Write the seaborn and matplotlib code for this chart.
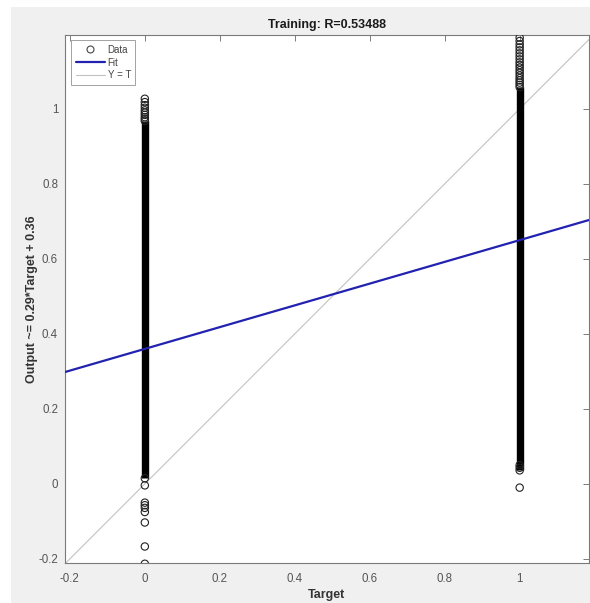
import matplotlib
matplotlib.use("Agg")
import matplotlib.pyplot as plt
from matplotlib.lines import Line2D
from matplotlib.patches import Rectangle
import numpy as np
import pandas as pd
import seaborn as sns

# ---- data -------------------------------------------------------------
# individually visible outputs for target 0 and target 1
outputs_t0 = [1.027, 1.018, 1.010, 1.003, 0.996, 0.990, 0.984, 0.978, 0.973, 0.968,
              0.015, -0.004, -0.050, -0.057, -0.064, -0.075, -0.103, -0.167, -0.213]
outputs_t1 = [1.190, 1.181, 1.172, 1.164, 1.156, 1.148, 1.140, 1.132, 1.124, 1.117,
              1.110, 1.103, 1.096, 1.089, 1.082, 1.076, 1.070, 1.064, 1.058,
              0.050, 0.043, 0.036, -0.010]
# the densely packed part of each column (lower and upper output)
band_targets = [0, 1]
band_lo = [0.015, 0.036]
band_hi = [0.968, 1.058]

fit_slope = 0.29
fit_intercept = 0.36
r_value = "0.53488"

xlim = (-0.213, 1.185)
ylim = (-0.211, 1.197)
ticks = [-0.2, 0, 0.2, 0.4, 0.6, 0.8, 1]
tick_labels = ["-0.2", "0", "0.2", "0.4", "0.6", "0.8", "1"]

df = pd.DataFrame({
    "Target": [0] * len(outputs_t0) + [1] * len(outputs_t1),
    "Output": outputs_t0 + outputs_t1,
})

# ---- figure -------------------------------------------------------------
sns.set_theme(style="white")
plt.rcParams["font.family"] = ["Liberation Sans", "DejaVu Sans"]

fig = plt.figure(figsize=(5.90, 6.03), dpi=100)
fig.patch.set_facecolor("white")
bg = Rectangle((11 / 590, 0), 1, (603 - 7) / 603, transform=fig.transFigure,
               facecolor="#f0f0f0", edgecolor="none", zorder=-10)
fig.add_artist(bg)

ax = fig.add_axes([65 / 590, 40 / 603, (589 - 65) / 590, (563 - 35) / 603])
ax.set_zorder(1)
ax.set_facecolor("white")

# Y = T reference line
ax.axline((0, 0), slope=1, color="#c2c2c2", lw=0.8, zorder=1)

# dense part of the columns
ax.vlines(band_targets, band_lo, band_hi, colors="black", lw=5.3, zorder=2)

# individual data circles
sns.scatterplot(data=df, x="Target", y="Output", ax=ax, marker="o", s=28,
                facecolor="none", edgecolor="#222222", linewidth=0.8,
                legend=False, zorder=3)

# regression fit
ax.axline((0, fit_intercept), slope=fit_slope, color="#2222b0", lw=1.6, zorder=4)

ax.set_xlim(*xlim)
ax.set_ylim(*ylim)
ax.set_xticks(ticks)
ax.set_xticklabels(tick_labels)
ax.set_yticks(ticks)
ax.set_yticklabels(tick_labels)
ax.tick_params(axis="both", direction="in", length=4, width=0.6, color="#666666",
               labelsize=8.3, labelcolor="#555555", top=True, right=True)
ax.tick_params(axis="x", pad=7)
ax.tick_params(axis="y", pad=5)
for side in ax.spines.values():
    side.set_color("#7a7a7a")
    side.set_linewidth(0.8)

ax.set_xlabel("Target", fontsize=9, fontweight="bold", color="#333333", labelpad=3)
ax.set_ylabel("Output ~= 0.29*Target + 0.36", fontsize=9, fontweight="bold",
              color="#333333", labelpad=0)
ax.set_title(f"Training: R={r_value}", fontsize=9, fontweight="bold",
             color="#1a1a1a", pad=5)

handles = [
    Line2D([], [], marker="o", linestyle="none", markerfacecolor="none",
           markeredgecolor="#444444", markersize=5, markeredgewidth=0.8),
    Line2D([], [], color="#2222b0", lw=1.6),
    Line2D([], [], color="#c2c2c2", lw=0.8),
]
leg = ax.legend(handles, ["Data", "Fit", "Y = T"], loc="upper left",
                bbox_to_anchor=(0.012, 0.99), fontsize=7, frameon=True,
                fancybox=False, edgecolor="#8a8a8a", handlelength=3.0,
                handletextpad=0.3, borderpad=0.45, labelspacing=0.3,
                borderaxespad=0)
leg.get_frame().set_linewidth(0.7)
for t in leg.get_texts():
    t.set_color("#444444")

fig.savefig("out.png", dpi=100, facecolor=fig.get_facecolor())
